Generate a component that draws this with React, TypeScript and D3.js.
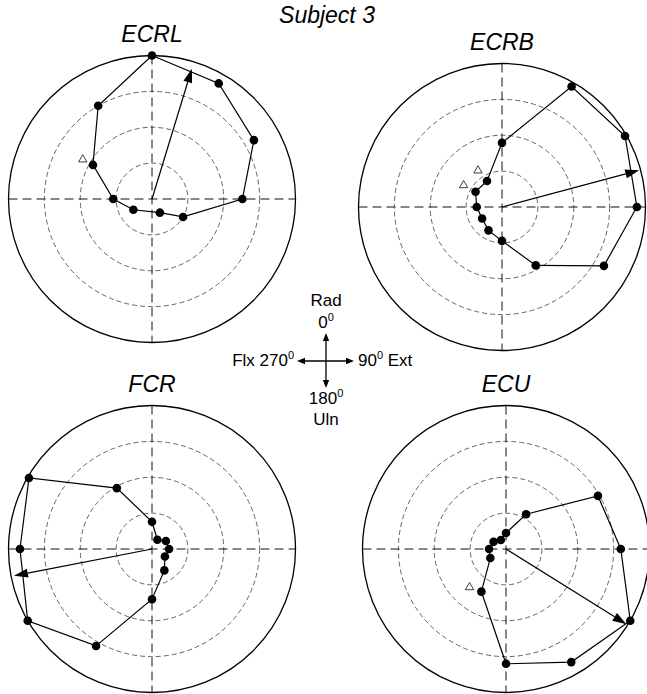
import React from "react";
import * as d3 from "d3";

// Subject 3 – preferred directions of wrist muscles (polar plots)
const W = 647;
const H = 694;
const FONT = "'Liberation Sans', Arial, Helvetica, sans-serif";

const title = "Subject 3";
const panels = ["ECRL", "ECRB", "FCR", "ECU"];
const directions = [0, 30, 60, 90, 120, 150, 180, 210, 240, 270, 300, 330];
const rings = [0.25, 0.5, 0.75];

// normalised magnitudes per direction (null = no point drawn)
const ecrlRadii = [1.0, 0.93, 0.82, 0.63, 0.25, 0.11, null, null, 0.15, 0.27, 0.475, 0.75];
const ecrbRadii = [0.447, 0.97, 0.99, 0.94, 0.82, 0.47, 0.236, 0.188, 0.16, 0.176, 0.213, 0.209];
const fcrRadii = [0.19, 0.075, 0.112, 0.119, 0.104, 0.172, 0.35, 0.78, 1.0, 0.92, 0.99, 0.49];
const ecuRadii = [0.111, 0.28, 0.74, 0.8, 1.0, 0.91, 0.8, 0.343, 0.126, 0.118, 0.1, 0.072];

// resultant vector
const arrowAngles = [17, 75, 259, 122];
const arrowLengths = [0.95, 0.99, 0.98, 0.99];

// open triangle marks
const ecrlTriangles = [[300, 0.557]];
const ecrbTriangles = [[300, 0.309], [327, 0.307]];
const fcrTriangles: number[][] = [];
const ecuTriangles = [[224, 0.366]];

const radiiSets = [ecrlRadii, ecrbRadii, fcrRadii, ecuRadii];
const triangleSets = [ecrlTriangles, ecrbTriangles, fcrTriangles, ecuTriangles];

// panel placement
const layout = [
  { cx: 152, cy: 199 },
  { cx: 502, cy: 207 },
  { cx: 152, cy: 549 },
  { cx: 506, cy: 549 },
];
const R = 143.5;

const rScale = d3.scaleLinear().domain([0, 1]).range([0, R]);
const aScale = d3.scaleLinear().domain([0, 360]).range([0, 2 * Math.PI]);

function arrowHead(tip: [number, number], len: number, half: number) {
  const d = Math.hypot(tip[0], tip[1]);
  const ux = tip[0] / d;
  const uy = tip[1] / d;
  const bx = tip[0] - ux * len;
  const by = tip[1] - uy * len;
  return {
    base: [bx, by],
    path: `M${tip[0]},${tip[1]}L${bx - uy * half},${by + ux * half}L${bx + uy * half},${by - ux * half}Z`,
  };
}

function Polar({ i }: { i: number }) {
  const { cx, cy } = layout[i];
  const radii = radiiSets[i];
  const pts = directions
    .map((d, k) => ({ d, v: radii[k] }))
    .filter((p) => p.v !== null) as { d: number; v: number }[];

  const poly = d3
    .lineRadial<{ d: number; v: number }>()
    .angle((p) => aScale(p.d))
    .radius((p) => rScale(p.v))
    .curve(d3.curveLinearClosed);

  const tip = d3.pointRadial(aScale(arrowAngles[i]), rScale(arrowLengths[i])) as [number, number];
  const head = arrowHead(tip, 14, 4.5);
  const tri = d3.symbol().type(d3.symbolTriangle).size(30)();

  return (
    <g transform={`translate(${cx},${cy})`}>
      <text
        y={-157.5}
        textAnchor="middle"
        fontFamily={FONT}
        fontStyle="italic"
        fontSize={23}
      >
        {panels[i]}
      </text>
      {rings.map((k) => (
        <circle
          key={k}
          r={rScale(k)}
          fill="none"
          stroke="#333"
          strokeWidth={0.75}
          strokeDasharray="5,3"
        />
      ))}
      <line x1={-R} x2={R} y1={0} y2={0} stroke="#111" strokeWidth={1} strokeDasharray="9,5" />
      <line x1={0} x2={0} y1={-R} y2={R} stroke="#111" strokeWidth={1} strokeDasharray="9,5" />
      <circle r={R} fill="none" stroke="#000" strokeWidth={1.3} />
      <path d={poly(pts) || ""} fill="none" stroke="#000" strokeWidth={1.2} />
      {pts.map((p) => {
        const [x, y] = d3.pointRadial(aScale(p.d), rScale(p.v));
        return <circle key={p.d} cx={x} cy={y} r={4.3} fill="#000" />;
      })}
      <line x1={0} y1={0} x2={head.base[0]} y2={head.base[1]} stroke="#000" strokeWidth={1.2} />
      <path d={head.path} fill="#000" />
      {triangleSets[i].map((t, k) => {
        const [x, y] = d3.pointRadial(aScale(t[0]), rScale(t[1]));
        return (
          <path
            key={k}
            d={tri || ""}
            transform={`translate(${x},${y + 0.5})`}
            fill="#fff"
            stroke="#000"
            strokeWidth={0.75}
          />
        );
      })}
    </g>
  );
}

function Legend() {
  const cx = 326;
  const cy = 361;
  const vUp = arrowHead([0, -28], 8, 3.2);
  const vDn = arrowHead([0, 27], 8, 3.2);
  const hL = arrowHead([-29, 0], 8, 3.2);
  const hR = arrowHead([28, 0], 8, 3.2);
  const txt = { fontFamily: FONT, fontSize: 17 } as const;
  return (
    <g transform={`translate(${cx},${cy})`}>
      <line x1={0} y1={vUp.base[1]} x2={0} y2={vDn.base[1]} stroke="#000" strokeWidth={1.3} />
      <line x1={hL.base[0]} y1={0} x2={hR.base[0]} y2={0} stroke="#000" strokeWidth={1.3} />
      <path d={vUp.path} fill="#000" />
      <path d={vDn.path} fill="#000" />
      <path d={hL.path} fill="#000" />
      <path d={hR.path} fill="#000" />
      <text y={-55} textAnchor="middle" {...txt}>Rad</text>
      <text y={-33.5} textAnchor="middle" {...txt}>
        <tspan>0</tspan>
        <tspan dy={-7} fontSize={11}>0</tspan>
      </text>
      <text x={-32} y={5} textAnchor="end" {...txt}>
        <tspan>Flx 270</tspan>
        <tspan dy={-7} fontSize={11}>0</tspan>
      </text>
      <text x={32} y={5} textAnchor="start" {...txt}>
        <tspan>90</tspan>
        <tspan dy={-7} fontSize={11}>0</tspan>
        <tspan dy={7}> Ext</tspan>
      </text>
      <text y={43} textAnchor="middle" {...txt}>
        <tspan>180</tspan>
        <tspan dy={-7} fontSize={11}>0</tspan>
      </text>
      <text y={64} textAnchor="middle" {...txt}>Uln</text>
    </g>
  );
}

export default function App() {
  return (
    <div style={{ position: "absolute", left: 0, top: 0, background: "#fff" }}>
      <svg width={W} height={H} style={{ display: "block" }}>
        <rect width={W} height={H} fill="#fff" />
        <text
          x={327}
          y={23}
          textAnchor="middle"
          fontFamily={FONT}
          fontStyle="italic"
          fontSize={23}
        >
          {title}
        </text>
        {panels.map((p, i) => (
          <Polar key={p} i={i} />
        ))}
        <Legend />
      </svg>
    </div>
  );
}
